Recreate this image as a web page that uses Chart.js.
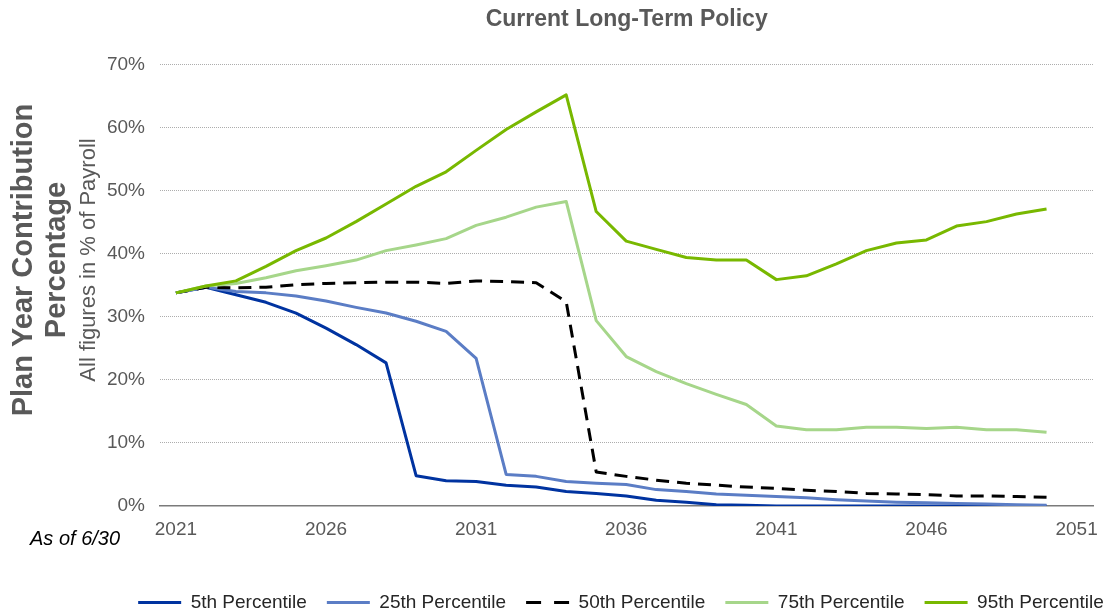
<!DOCTYPE html>
<html>
<head>
<meta charset="utf-8">
<title>Current Long-Term Policy</title>
<script src="https://cdn.jsdelivr.net/npm/chart.js@4.4.1/dist/chart.umd.min.js"></script>
<style>
    html, body { margin: 0; padding: 0; background: #fff; }
    #wrap { width: 1110px; height: 613px; position: relative; }
</style>
</head>
<body>
<div id="wrap"><canvas id="policyChart"></canvas></div>
<script>
// Plan years and contribution rates (% of payroll)
const years = [2021, 2022, 2023, 2024, 2025, 2026, 2027, 2028, 2029, 2030,
               2031, 2032, 2033, 2034, 2035, 2036, 2037, 2038, 2039, 2040,
               2041, 2042, 2043, 2044, 2045, 2046, 2047, 2048, 2049, 2050];

const p5 = [33.8, 34.7, 33.5, 32.3, 30.6, 28.2, 25.6, 22.7, 4.8, 4.0,
            3.9, 3.3, 3.0, 2.3, 2.0, 1.6, 0.9, 0.6, 0.2, 0.1,
            0.0, 0.0, 0.0, 0.0, 0.0, 0.0, 0.0, 0.0, 0.0, 0.0];
const p25 = [33.8, 34.7, 34.0, 33.8, 33.3, 32.5, 31.5, 30.6, 29.3, 27.7,
             23.4, 5.0, 4.7, 3.9, 3.6, 3.4, 2.6, 2.3, 1.9, 1.7,
             1.5, 1.3, 1.0, 0.8, 0.6, 0.5, 0.4, 0.3, 0.2, 0.1];
const p50 = [33.8, 34.7, 34.6, 34.7, 35.1, 35.3, 35.4, 35.5, 35.5, 35.3,
             35.7, 35.6, 35.4, 32.4, 5.4, 4.7, 4.1, 3.6, 3.3, 3.0,
             2.8, 2.5, 2.3, 2.0, 1.9, 1.8, 1.6, 1.6, 1.5, 1.4];
const p75 = [33.8, 34.9, 35.3, 36.2, 37.3, 38.1, 39.0, 40.5, 41.4, 42.4,
             44.5, 45.8, 47.4, 48.3, 29.4, 23.7, 21.3, 19.4, 17.7, 16.1,
             12.7, 12.1, 12.1, 12.5, 12.5, 12.3, 12.5, 12.1, 12.1, 11.7];
const p95 = [33.8, 34.9, 35.7, 38.0, 40.5, 42.5, 45.1, 47.9, 50.7, 53.0,
             56.4, 59.7, 62.5, 65.2, 46.7, 42.0, 40.7, 39.4, 39.0, 39.0,
             35.9, 36.5, 38.4, 40.5, 41.7, 42.2, 44.4, 45.1, 46.3, 47.1];

const seriesNames = ['5th Percentile', '25th Percentile', '50th Percentile', '75th Percentile', '95th Percentile'];
const xTicks = [2021, 2026, 2031, 2036, 2041, 2046, 2051];
const yTicks = [0, 10, 20, 30, 40, 50, 60, 70];

document.addEventListener("DOMContentLoaded", () => {
    const FONT = '"Liberation Sans", Arial, sans-serif';
    const GREY = '#595959';

    const toPoints = (values) => values.map((v, i) => ({ x: years[i], y: v }));

    // dash = plot line, keyDash = legend sample (two dashes like Excel)
    const styles = [
        { color: '#0033A0', dash: [], keyDash: [] },
        { color: '#5B7DC5', dash: [], keyDash: [] },
        { color: '#000000', dash: [13, 8], keyDash: [15, 13] },
        { color: '#A6D68A', dash: [], keyDash: [] },
        { color: '#78B800', dash: [], keyDash: [] }
    ];
    const allSeries = [p5, p25, p50, p75, p95];

    const datasets = allSeries.map((values, i) => ({
        label: seriesNames[i],
        data: toPoints(values),
        borderColor: styles[i].color,
        backgroundColor: styles[i].color,
        borderDash: styles[i].dash,
        borderWidth: 3,
        borderJoinStyle: 'round',
        pointRadius: 0,
        pointHoverRadius: 0,
        pointStyle: 'line',
        tension: 0,
        fill: false,
        // Excel paints later series on top
        order: allSeries.length - i
    }));

    // rotated axis titles and the date note
    const sideText = {
        id: 'sideText',
        afterDraw(chart) {
            const ctx = chart.ctx;
            ctx.save();
            ctx.fillStyle = GREY;
            ctx.textAlign = 'center';
            ctx.textBaseline = 'middle';
            ctx.translate(0, 260);
            ctx.rotate(-Math.PI / 2);
            ctx.font = 'bold 29px ' + FONT;
            ctx.fillText('Plan Year Contribution', 0, 24);
            ctx.fillText('Percentage', 0, 57);
            ctx.font = '22px ' + FONT;
            ctx.fillText('All figures in % of Payroll', 0, 89);
            ctx.restore();

            ctx.save();
            ctx.fillStyle = '#000';
            ctx.textAlign = 'left';
            ctx.textBaseline = 'middle';
            ctx.font = 'italic 20px ' + FONT;
            ctx.fillText('As of 6/30', 30, 539);
            ctx.restore();
        }
    };

    // legend in the original sits right of the canvas centre
    const legendShift = {
        id: 'legendShift',
        afterLayout(chart) {
            const legend = chart.legend;
            if (!legend) return;
            const d = 621 - (legend.left + legend.right) / 2;
            legend.left += d;
            legend.right += d;
        }
    };

    new Chart(document.getElementById('policyChart'), {
        type: 'line',
        data: { datasets },
        plugins: [sideText, legendShift],
        options: {
            responsive: true,
            maintainAspectRatio: false,
            animation: false,
            layout: { padding: { left: 0, right: 5, top: 0, bottom: 0 } },
            plugins: {
                title: {
                    display: true,
                    text: 'Current Long-Term Policy',
                    color: GREY,
                    fullSize: false,
                    font: { family: FONT, size: 23, weight: 'bold' },
                    padding: { top: 6, bottom: 31 }
                },
                legend: {
                    position: 'bottom',
                    maxHeight: 40,
                    labels: {
                        usePointStyle: true,
                        pointStyleWidth: 43,
                        padding: 20,
                        color: '#262626',
                        font: { family: FONT, size: 19 },
                        generateLabels: (chart) => Chart.defaults.plugins.legend.labels.generateLabels(chart)
                            .map(item => ({
                                ...item,
                                lineDash: styles[item.datasetIndex].keyDash,
                                lineWidth: 3
                            })),
                        sort: (a, b) => a.datasetIndex - b.datasetIndex
                    }
                },
                tooltip: { enabled: false }
            },
            scales: {
                x: {
                    type: 'linear',
                    min: 2020.47,
                    max: 2051.56,
                    afterFit: (axis) => { axis.height = 67; },
                    afterBuildTicks: (axis) => { axis.ticks = xTicks.map(v => ({ value: v })); },
                    grid: { display: false, drawTicks: false },
                    border: { display: true, color: '#7A7A7A', width: 1.5 },
                    ticks: {
                        autoSkip: false,
                        maxRotation: 0,
                        padding: 12,
                        color: GREY,
                        font: { family: FONT, size: 19 },
                        callback: (v) => String(v)
                    }
                },
                y: {
                    min: 0,
                    max: 70,
                    afterFit: (axis) => { axis.width = 160; },
                    afterBuildTicks: (axis) => { axis.ticks = yTicks.map(v => ({ value: v })); },
                    grid: {
                        drawTicks: false,
                        color: (c) => c.tick && c.tick.value === 0 ? 'rgba(0,0,0,0)' : '#ADADAD',
                        lineWidth: 1
                    },
                    border: { display: false, dash: [1, 1] },
                    ticks: {
                        padding: 15,
                        color: GREY,
                        font: { family: FONT, size: 19 },
                        callback: (v) => v + '%'
                    }
                }
            }
        }
    });
});
</script>
</body>
</html>
